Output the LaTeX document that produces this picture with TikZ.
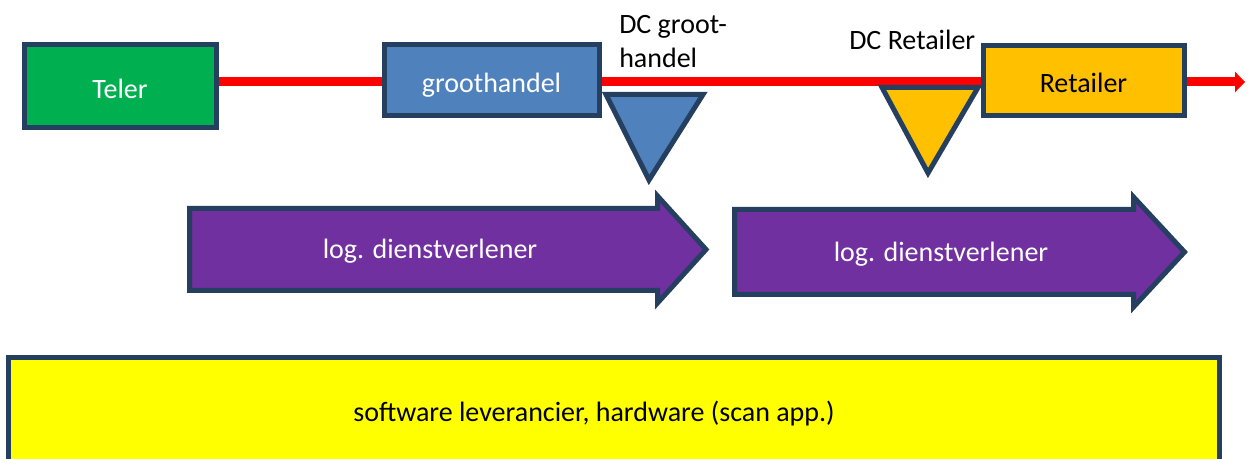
\documentclass[tikz,border=0pt]{standalone}
\usepackage{fontspec}
\setmainfont{Carlito}
\usetikzlibrary{arrows.meta,backgrounds}
\definecolor{bord}{HTML}{243F60}
\definecolor{cgreen}{HTML}{00B050}
\definecolor{cblue}{HTML}{4F81BD}
\definecolor{corange}{HTML}{FFC000}
\definecolor{cpurple}{HTML}{7030A0}
\definecolor{cyellow}{HTML}{FFFF00}
\definecolor{cred}{HTML}{FF0000}
\begin{document}
\begin{tikzpicture}[x=0.75pt,y=-0.75pt,
  txt/.style={font=\fontsize{21}{26}\selectfont, inner sep=0pt},
  box/.style={txt, draw=bord, line width=3.75pt, rectangle},
  shp/.style={draw=bord, line width=3.75pt, line join=miter},
  flow/.style={draw=cred, line width=6.75pt, -{Triangle[width=15pt,length=7.5pt]}}
]
\useasboundingbox (0,0) rectangle (1249,459);

% boxes
\node[box, fill=cgreen, text=white, minimum width=144pt, minimum height=62.25pt, text height=18.5pt, text depth=0pt] (teler) at (120,86.5) {Teler};
\node[box, fill=cblue, text=white, minimum width=161.25pt, minimum height=53.25pt, text height=21.5pt, text depth=4.2pt] (groot) at (491.5,80.5) {groothandel};
\node[box, fill=corange, text=black, minimum width=150.75pt, minimum height=52.5pt, text height=17pt, text depth=0pt] (retailer) at (1083.5,81) {Retailer};
\coordinate (flowend) at (1245,82);

% red flow line behind the boxes
\begin{scope}[on background layer]
  \draw[flow] (teler.west |- flowend) -- (flowend);
\end{scope}

% DC triangles
\fill[cblue] (606,94.5) -- (703,94.5) -- (649,180) -- cycle;
\draw[shp] (606,94.5) -- (703,94.5) -- (649,180) -- cycle;
\node[txt, anchor=base west, align=left] (dcg) at (619,68) {DC groot-\\handel};

\fill[corange] (882,87.5) -- (978,87.5) -- (928,173) -- cycle;
\draw[shp] (882,87.5) -- (978,87.5) -- (928,173) -- cycle;
\node[txt, anchor=base west] (dcr) at (849,50) {DC Retailer};

% logistic service provider arrows
\draw[shp, fill=cpurple] (189.5,208.5) -- (657.5,208.5) -- (657.5,196) -- (706,249.5) -- (657.5,303) -- (657.5,290.5) -- (189.5,290.5) -- cycle;
\node[txt, text=white] (log1) at (430,251) {log. dienstverlener};

\draw[shp, fill=cpurple] (734.5,209.5) -- (1133.5,209.5) -- (1133.5,197) -- (1184.5,252) -- (1133.5,307) -- (1133.5,294.5) -- (734.5,294.5) -- cycle;
\node[txt, text=white] (log2) at (941,254) {log. dienstverlener};

% bottom box
\node[box, fill=cyellow, text=black, minimum width=908.25pt, minimum height=84.375pt] (soft) at (614,413.75) {};
\node[txt] (softtxt) at (594,414) {software leverancier, hardware (scan app.)};
\end{tikzpicture}
\end{document}
